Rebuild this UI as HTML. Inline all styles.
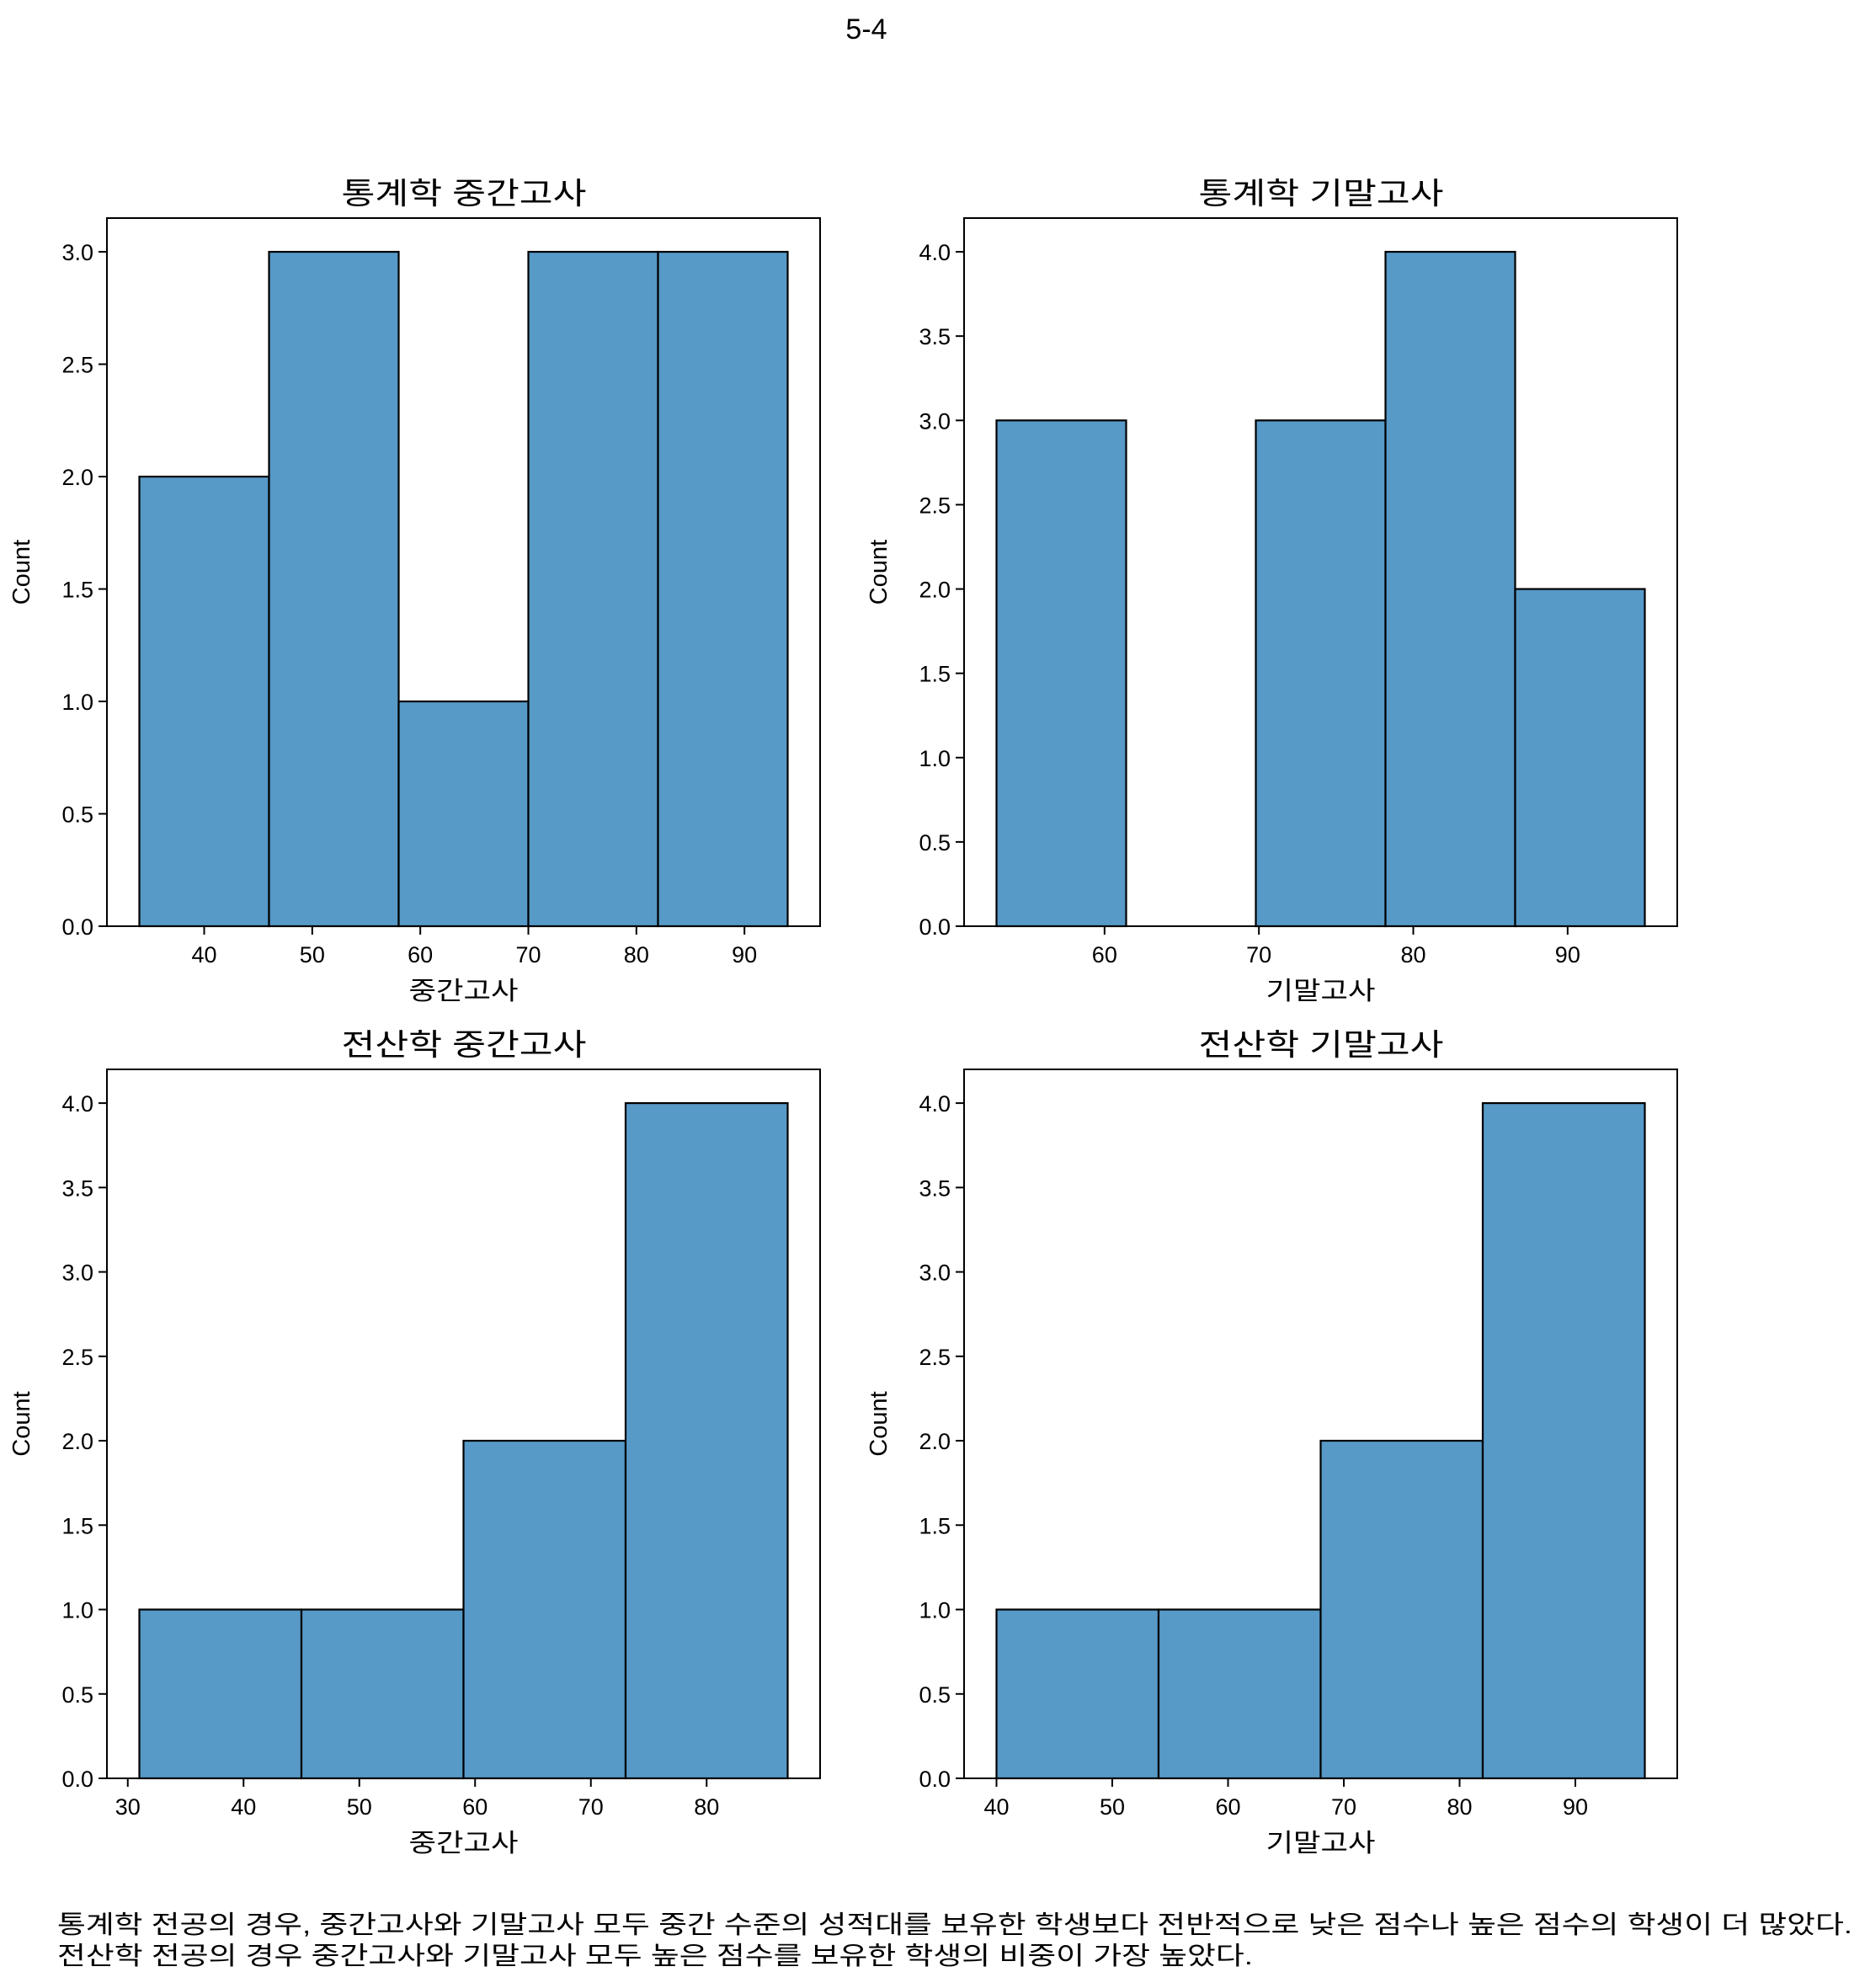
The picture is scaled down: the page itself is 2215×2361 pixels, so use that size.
<!DOCTYPE html>
<html><head><meta charset="utf-8"><style>
body{margin:0;background:#fff;}
svg text{font-family:"Liberation Sans","Noto Sans CJK KR",sans-serif;fill:#000;}
</style></head><body>
<svg id="fig" width="2215" height="2356" viewBox="0 0 2215 2356" xmlns="http://www.w3.org/2000/svg">
<text x="1029" y="46" font-size="34" text-anchor="middle">5-4</text>
<text x="68" y="2296" font-size="30" textLength="2132" lengthAdjust="spacingAndGlyphs">통계학 전공의 경우, 중간고사와 기말고사 모두 중간 수준의 성적대를 보유한 학생보다 전반적으로 낮은 점수나 높은 점수의 학생이 더 많았다.</text>
<text x="68" y="2333" font-size="30" textLength="1420" lengthAdjust="spacingAndGlyphs">전산학 전공의 경우 중간고사와 기말고사 모두 높은 점수를 보유한 학생의 비중이 가장 높았다.</text>
</svg>
<script>
const tlEdges=[34,46,58,70,82,94];
const tlCounts=[2,3,1,3,3];
const tlXTicks=[40,50,60,70,80,90];
const trEdges=[53,61.4,69.8,78.2,86.6,95];
const trCounts=[3,0,3,4,2];
const trXTicks=[60,70,80,90];
const blEdges=[31,45,59,73,87];
const blCounts=[1,1,2,4];
const blXTicks=[30,40,50,60,70,80];
const brEdges=[40,54,68,82,96];
const brCounts=[1,1,2,4];
const brXTicks=[40,50,60,70,80,90];
const yTicks3=[0,0.5,1,1.5,2,2.5,3];
const yTicks4=[0,0.5,1,1.5,2,2.5,3,3.5,4];
const NS="http://www.w3.org/2000/svg";
const svg=document.getElementById('fig');
function mk(tag,attrs,parent){const e=document.createElementNS(NS,tag);for(const k in attrs)e.setAttribute(k,attrs[k]);(parent||svg).appendChild(e);return e;}
function panel(name,L,T,R,B,edges,counts,xTicks,yTicks,ymax,title,xlabel){
  const g=mk('g',{});
  
  
  const span=edges[edges.length-1]-edges[0];
  const x0=edges[0]-span*0.05,x1=edges[edges.length-1]+span*0.05;
  const sx=v=>L+(v-x0)/(x1-x0)*(R-L);
  const sy=v=>B-v/ymax*(B-T);
  for(let i=0;i<counts.length;i++){
    if(counts[i]<=0)continue;
    const r=mk('rect',{x:sx(edges[i]),y:sy(counts[i]),width:sx(edges[i+1])-sx(edges[i]),height:B-sy(counts[i]),fill:'#5799c7',stroke:'#000','stroke-width':2.2},g);
    
    
  }
  const fr=mk('rect',{x:L,y:T,width:R-L,height:B-T,fill:'none',stroke:'#000','stroke-width':2},g);
  
  
  xTicks.forEach(v=>{const x=sx(v);mk('line',{x1:x,x2:x,y1:B,y2:B+10,stroke:'#000','stroke-width':2},g);
    const t=mk('text',{x:x,y:B+43,'font-size':27,'text-anchor':'middle'},g);t.textContent=v;
    
    });
  yTicks.forEach(v=>{const y=sy(v);mk('line',{x1:L-10,x2:L,y1:y,y2:y,stroke:'#000','stroke-width':2},g);
    const t=mk('text',{x:L-16,y:y+10,'font-size':27,'text-anchor':'end'},g);t.textContent=v.toFixed(1);
    
    });
  const tt=mk('text',{x:(L+R)/2-145,y:T-17,'font-size':36,textLength:291,lengthAdjust:'spacingAndGlyphs'},g);tt.textContent=title;
  
  
  const xl=mk('text',{x:(L+R)/2-65,y:B+87,'font-size':30,textLength:130,lengthAdjust:'spacingAndGlyphs'},g);xl.textContent=xlabel;
  
  
  const cy=(T+B)/2;
  const yl=mk('text',{x:L-92,y:cy,'font-size':29,'text-anchor':'middle',transform:`rotate(-90 ${L-92} ${cy})`},g);yl.textContent='Count';
  
  
}
panel('stats-midterm-panel',127,259,974,1100,tlEdges,tlCounts,tlXTicks,yTicks3,3.15,'통계학 중간고사','중간고사');
panel('stats-final-panel',1145,259,1992,1100,trEdges,trCounts,trXTicks,yTicks4,4.2,'통계학 기말고사','기말고사');
panel('cs-midterm-panel',127,1270,974,2112,blEdges,blCounts,blXTicks,yTicks4,4.2,'전산학 중간고사','중간고사');
panel('cs-final-panel',1145,1270,1992,2112,brEdges,brCounts,brXTicks,yTicks4,4.2,'전산학 기말고사','기말고사');
</script>
</body></html>
